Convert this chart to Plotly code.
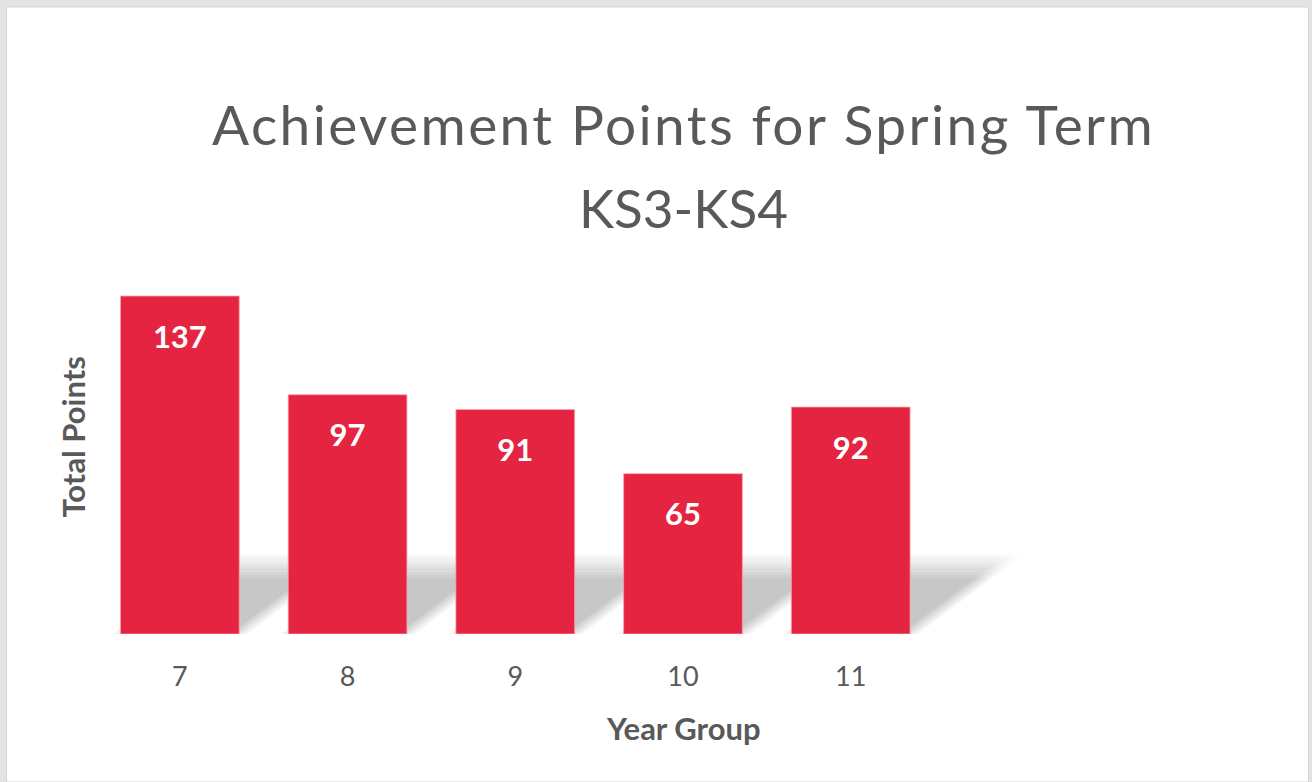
import plotly.graph_objects as go

# ---- data ----
year_groups = ["7", "8", "9", "10", "11"]
total_points = [137, 97, 91, 65, 92]

title_line1 = "Achievement Points for Spring Term"
title_line2 = "KS3-KS4"
x_title = "Year Group"
y_title = "Total Points"

# ---- layout geometry (pixels) ----
W, H = 1312, 782
plot_left, plot_right = 95.5, 1270.5
plot_bottom, plot_top = 634, 264
x_range = [-0.5, 6.5]
y_range = [0, 150]
bar_width = 0.708

px_per_x = (plot_right - plot_left) / (x_range[1] - x_range[0])
px_per_y = (plot_bottom - plot_top) / (y_range[1] - y_range[0])

BAR = "#E52441"
GREY = "#595959"
FONT = "Lato"

xpos = list(range(len(year_groups)))

fig = go.Figure()
fig.add_trace(go.Bar(
    x=xpos, y=total_points, width=bar_width,
    marker=dict(color=BAR, line=dict(color="rgba(255,160,170,0.8)", width=1)),
    hoverinfo="x+y", showlegend=False,
))
# data labels, placed ~44px below the top of each bar
label_offset = 44 / px_per_y
fig.add_trace(go.Scatter(
    x=xpos, y=[v - label_offset for v in total_points],
    mode="text", text=[str(v) for v in total_points],
    textposition="middle center",
    textfont=dict(family=FONT, size=31, color="white", weight="bold"),
    hoverinfo="skip", showlegend=False,
))

def pxx(px):
    return (px - plot_left) / (plot_right - plot_left)

def pxy(py):
    return (plot_bottom - py) / (plot_bottom - plot_top)

shapes = []
# white panel over grey page background
shapes.append(dict(type="rect", xref="paper", yref="paper",
                   x0=pxx(6), x1=pxx(1309), y0=pxy(782), y1=pxy(7),
                   fillcolor="white", line=dict(color="#d4d4d4", width=1),
                   layer="below"))

# soft skewed shadow behind the bars (stacked translucent layers = blur)
sh_h = 66 / px_per_y          # shadow height (data units)
sh_dx = 88 / px_per_x         # horizontal skew at full height
shifts = [-9, -6, -3, 0, 3, 6, 9]
scales = [0.85, 0.9, 0.95, 1.0, 1.05, 1.1, 1.15, 1.2]
n_layers = len(shifts) * len(scales)
core_alpha = 0.19
a = 1 - (1 - core_alpha) ** (1 / n_layers)
for shift_px in shifts:
    sx = shift_px / px_per_x
    for t in scales:
        for i in xpos:
            xl = i - bar_width / 2 + sx
            xr = i + bar_width / 2 + sx
            path = (f"M {xl},0 L {xr},0 L {xr + sh_dx * t},{sh_h * t} "
                    f"L {xl + sh_dx * t},{sh_h * t} Z")
            shapes.append(dict(type="path", xref="x", yref="y", path=path,
                               fillcolor=f"rgba(0,0,0,{a:.5f})",
                               line=dict(width=0), layer="below"))

annotations = [
    dict(text=f'<span style="letter-spacing:2.4px">{title_line1}</span>',
         x=pxx(683), y=pxy(124), xref="paper", yref="paper",
         showarrow=False, xanchor="center", yanchor="middle",
         font=dict(family=FONT, size=55, color=GREY)),
    dict(text=title_line2, x=pxx(684), y=pxy(207), xref="paper", yref="paper",
         showarrow=False, xanchor="center", yanchor="middle",
         font=dict(family=FONT, size=53, color=GREY)),
    dict(text=x_title, x=pxx(683), y=pxy(728), xref="paper", yref="paper",
         showarrow=False, xanchor="center", yanchor="middle",
         font=dict(family=FONT, size=31, color=GREY, weight="bold")),
    dict(text=y_title, x=pxx(72), y=pxy(437), xref="paper", yref="paper",
         showarrow=False, xanchor="center", yanchor="middle", textangle=-90,
         font=dict(family=FONT, size=31, color=GREY, weight="bold")),
]

fig.update_layout(
    width=W, height=H,
    margin=dict(l=plot_left, r=W - plot_right, t=plot_top, b=H - plot_bottom),
    paper_bgcolor="#e3e3e3", plot_bgcolor="white",
    shapes=shapes, annotations=annotations,
    xaxis=dict(range=x_range, tickvals=xpos, ticktext=year_groups,
               showgrid=False, zeroline=False, showline=False,
               ticks="", ticklabelstandoff=24,
               tickfont=dict(family=FONT, size=27, color=GREY),
               fixedrange=True),
    yaxis=dict(range=y_range, showgrid=False, zeroline=False, showline=False,
               showticklabels=False, ticks="", fixedrange=True),
    bargap=0.3,
)

fig.write_html("out.html", config={"displayModeBar": False})
